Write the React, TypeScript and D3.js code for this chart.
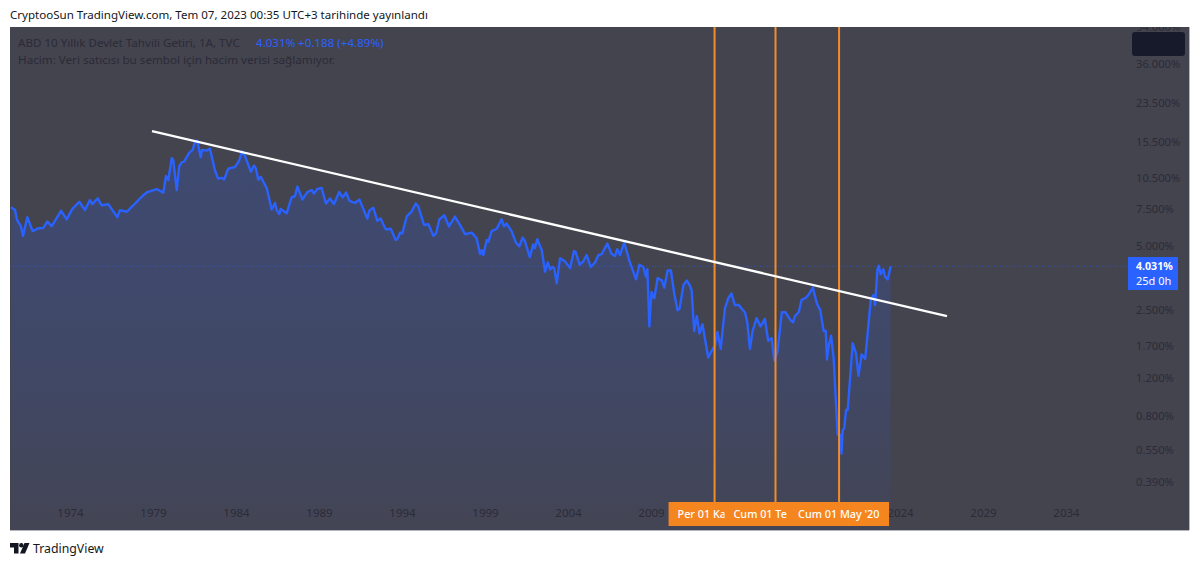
import React, { useEffect, useRef } from "react";
import * as d3 from "d3";

const dates = [
  1970.45, 1970.69, 1970.81, 1971.05, 1971.17, 1971.43, 1971.75, 1972.09, 1972.39, 1972.63, 1972.9, 1973.46, 1973.8,
  1974.14, 1974.56, 1974.9, 1975.2, 1975.34, 1975.67, 1975.91, 1976.31, 1976.85, 1977.01, 1977.42, 1978.42, 1978.66,
  1979.22, 1979.62, 1979.78, 1979.92, 1980.13, 1980.22, 1980.43, 1980.58, 1980.73, 1980.87, 1981.19, 1981.39, 1981.53,
  1981.67, 1981.87, 1981.95, 1982.24, 1982.43, 1982.73, 1982.93, 1983.14, 1983.28, 1983.53, 1983.94, 1984.2, 1984.36,
  1984.54, 1984.9, 1985.08, 1985.2, 1985.34, 1985.49, 1985.85, 1986.15, 1986.35, 1986.45, 1986.61, 1986.69, 1987.05,
  1987.35, 1987.55, 1987.7, 1988.0, 1988.3, 1988.56, 1988.7, 1988.9, 1989.16, 1989.42, 1989.66, 1989.9, 1990.22,
  1990.43, 1990.63, 1990.83, 1990.97, 1991.17, 1991.43, 1991.67, 1991.91, 1992.03, 1992.27, 1992.51, 1992.72, 1992.87,
  1993.04, 1993.32, 1993.62, 1993.74, 1993.88, 1994.02, 1994.28, 1994.58, 1994.83, 1994.98, 1995.33, 1995.59, 1995.89,
  1996.05, 1996.25, 1996.55, 1996.83, 1997.19, 1997.5, 1997.8, 1998.2, 1998.5, 1998.7, 1998.8, 1998.9, 1999.1, 1999.2,
  1999.4, 1999.7, 2000.0, 2000.15, 2000.3, 2000.6, 2000.87, 2001.07, 2001.27, 2001.4, 2001.7, 2001.9, 2002.0, 2002.15,
  2002.42, 2002.62, 2002.78, 2002.92, 2003.06, 2003.17, 2003.32, 2003.52, 2003.82, 2004.12, 2004.36, 2004.46, 2004.7,
  2004.92, 2005.12, 2005.37, 2005.63, 2005.83, 2006.03, 2006.37, 2006.63, 2006.83, 2006.97, 2007.13, 2007.39, 2007.69,
  2008.1, 2008.3, 2008.54, 2008.7, 2008.78, 2008.9, 2009.03, 2009.2, 2009.4, 2009.66, 2009.8, 2010.0, 2010.2, 2010.4,
  2010.6, 2010.72, 2010.96, 2011.16, 2011.32, 2011.45, 2011.6, 2011.76, 2011.92, 2012.1, 2012.45, 2012.72, 2012.85,
  2013.0, 2013.2, 2013.45, 2013.65, 2013.85, 2014.05, 2014.3, 2014.45, 2014.66, 2014.8, 2014.96, 2015.12, 2015.36,
  2015.6, 2015.86, 2016.06, 2016.27, 2016.43, 2016.62, 2016.88, 2017.1, 2017.4, 2017.56, 2017.67, 2017.9, 2018.07,
  2018.28, 2018.48, 2018.75, 2018.99, 2019.2, 2019.4, 2019.53, 2019.6, 2019.7, 2019.85, 2020.0, 2020.24, 2020.38,
  2020.48, 2020.54, 2020.64, 2020.75, 2020.85, 2021.15, 2021.35, 2021.5, 2021.69, 2021.9, 2022.03, 2022.24, 2022.4,
  2022.5, 2022.64, 2022.72, 2022.84, 2023.0, 2023.1, 2023.26, 2023.44,
];

const yields = [
  7.63, 7.41, 6.66, 6.19, 5.6, 6.85, 5.9, 6.08, 6.1, 6.54, 6.23, 7.35, 6.7,
  7.5, 8.1, 7.41, 8.26, 7.9, 8.4, 7.8, 7.9, 6.85, 7.4, 7.27, 8.7, 9.0,
  9.3, 8.95, 10.7, 10.26, 13.0, 12.7, 9.2, 11.9, 12.4, 12.5, 13.8, 14.2, 15.5,
  15.7, 13.1, 14.2, 14.1, 14.4, 11.4, 10.4, 10.5, 10.3, 11.6, 11.8, 12.7, 14.0,
  13.3, 11.2, 12.0, 11.6, 10.3, 10.6, 9.4, 7.45, 8.0, 7.4, 7.1, 7.5, 7.15,
  8.5, 8.6, 9.55, 8.3, 9.0, 9.2, 8.85, 9.3, 9.4, 7.95, 8.4, 7.9, 9.0,
  8.5, 8.95, 8.2, 8.1, 8.0, 8.3, 7.5, 6.75, 7.35, 7.6, 6.6, 6.75, 6.35,
  6.0, 6.05, 5.36, 5.45, 5.8, 5.75, 6.9, 7.3, 7.95, 7.7, 6.3, 6.35, 5.6,
  5.75, 6.7, 7.0, 6.2, 6.9, 6.3, 5.7, 5.8, 5.45, 4.6, 4.8, 4.55, 5.36, 5.25,
  5.9, 6.05, 6.7, 6.2, 6.4, 5.9, 5.2, 5.0, 5.5, 5.3, 4.45, 5.1, 4.9, 5.4,
  4.8, 3.8, 4.2, 3.9, 4.0, 3.95, 3.35, 4.4, 4.25, 3.95, 4.75, 4.7, 4.1,
  4.25, 4.55, 4.0, 4.2, 4.55, 4.6, 5.15, 4.6, 4.5, 4.85, 4.55, 5.2, 4.3,
  3.5, 4.1, 4.0, 3.6, 3.9, 2.1, 3.05, 2.85, 3.55, 3.45, 3.2, 3.85, 3.85, 3.0,
  2.5, 2.55, 3.3, 3.45, 3.3, 3.1, 2.0, 2.35, 1.95, 2.15, 1.5, 1.65, 1.7,
  1.98, 1.65, 2.55, 2.85, 3.0, 2.65, 2.65, 2.55, 2.45, 2.2, 1.65, 2.0, 2.3,
  2.1, 2.28, 1.8, 1.85, 1.45, 1.6, 2.45, 2.45, 2.25, 2.2, 2.35, 2.45, 2.8,
  2.85, 2.95, 3.2, 2.7, 2.5, 2.0, 2.0, 1.47, 1.7, 1.9, 1.5, 0.65, 0.65,
  0.53, 0.68, 0.7, 0.85, 0.85, 1.75, 1.57, 1.23, 1.55, 1.48, 1.87, 2.8, 2.95,
  2.65, 3.9, 4.05, 3.7, 3.9, 3.6, 3.5, 4.031,
];

// 2014 ve 2019 turuncu etiketlerin altında kalıyor
const yearTicks = [1974, 1979, 1984, 1989, 1994, 1999, 2004, 2009, 2024, 2029, 2034];
const priceTicks = [54, 36, 23.5, 15.5, 10.5, 7.5, 5, 2.5, 1.7, 1.2, 0.8, 0.55, 0.39];

const trendDates = [1978.94, 2026.83];
const trendYields = [17.4, 2.35];

const markerDates = [2012.83, 2016.5, 2020.33];
const markerLabels = ["Per 01 Ka", "Cum 01 Te", "Cum 01 May '20"];
const markerBoxWidths = [92, 102, 100];

const lastYield = 4.031;
const font = "'Noto Sans', sans-serif";

const App: React.FC = () => {
  const ref = useRef<SVGSVGElement | null>(null);

  useEffect(() => {
    if (!ref.current) return;
    const svg = d3.select(ref.current);
    svg.selectAll("*").remove();

    const width = 1200;
    const height = 566;
    const panel = { left: 10, right: 1189, top: 27, bottom: 530 };
    const bg = "#44444f";
    const axisText = "#2b2b37";
    const blue = "#2962ff";
    const orange = "#f5851f";

    const x = d3.scaleLinear().domain([1974, 2024]).range([70, 900]);
    const y = d3.scaleLog().domain([36, 0.39]).range([64, 482]);

    const defs = svg.append("defs");
    const grad = defs
      .append("linearGradient")
      .attr("id", "fade")
      .attr("gradientUnits", "userSpaceOnUse")
      .attr("x1", 0)
      .attr("x2", 0)
      .attr("y1", 140)
      .attr("y2", panel.bottom);
    grad.append("stop").attr("offset", 0).attr("stop-color", blue).attr("stop-opacity", 0.2);
    grad.append("stop").attr("offset", 0.6).attr("stop-color", blue).attr("stop-opacity", 0.13);
    grad.append("stop").attr("offset", 1).attr("stop-color", blue).attr("stop-opacity", 0.03);
    defs
      .append("clipPath")
      .attr("id", "panel")
      .append("rect")
      .attr("x", panel.left)
      .attr("y", panel.top)
      .attr("width", panel.right - panel.left)
      .attr("height", panel.bottom - panel.top);

    svg.append("rect").attr("width", width).attr("height", height).attr("fill", "#fff");

    svg
      .append("text")
      .attr("x", 10)
      .attr("y", 19)
      .attr("font-family", font)
      .attr("font-size", 11.55)
      .attr("fill", "#131722")
      .text("CryptooSun TradingView.com, Tem 07, 2023 00:35 UTC+3 tarihinde yayınlandı");

    const chart = svg.append("g").attr("clip-path", "url(#panel)");
    chart
      .append("rect")
      .attr("x", panel.left)
      .attr("y", panel.top)
      .attr("width", panel.right - panel.left)
      .attr("height", panel.bottom - panel.top)
      .attr("fill", bg);

    // alan ve çizgi
    const points = dates.map((d, i) => [d, yields[i]] as [number, number]);
    const area = d3
      .area<[number, number]>()
      .x((d) => x(d[0]))
      .y0(panel.bottom)
      .y1((d) => y(d[1]));
    const line = d3
      .line<[number, number]>()
      .x((d) => x(d[0]))
      .y((d) => y(d[1]));

    chart.append("path").attr("d", area(points)).attr("fill", "url(#fade)");

    // son fiyat çizgisi
    chart
      .append("line")
      .attr("x1", panel.left)
      .attr("x2", 1128)
      .attr("y1", y(lastYield))
      .attr("y2", y(lastYield))
      .attr("stroke", blue)
      .attr("stroke-opacity", 0.55)
      .attr("stroke-width", 1)
      .attr("stroke-dasharray", "1 2");

    chart
      .append("path")
      .attr("d", line(points))
      .attr("fill", "none")
      .attr("stroke", blue)
      .attr("stroke-width", 2.4)
      .attr("stroke-linejoin", "round");

    // dikey işaretler
    chart
      .append("g")
      .selectAll("line")
      .data(markerDates)
      .join("line")
      .attr("x1", (d) => x(d))
      .attr("x2", (d) => x(d))
      .attr("y1", panel.top)
      .attr("y2", 502)
      .attr("stroke", "#f28c28")
      .attr("stroke-width", 2);

    // trend çizgisi
    chart
      .append("line")
      .attr("x1", x(trendDates[0]))
      .attr("y1", y(trendYields[0]))
      .attr("x2", x(trendDates[1]))
      .attr("y2", y(trendYields[1]))
      .attr("stroke", "#fff")
      .attr("stroke-width", 2.3);

    // X ekseni
    const xAxis = chart
      .append("g")
      .attr("transform", "translate(0,507)")
      .call(
        d3
          .axisBottom(x)
          .tickValues(yearTicks)
          .tickFormat((d) => String(d))
          .tickSize(0)
      );
    xAxis.select(".domain").remove();
    xAxis.selectAll("text").attr("font-family", font).attr("font-size", 11.5).attr("fill", axisText).attr("dy", 7);

    // Y ekseni
    const yAxis = chart
      .append("g")
      .attr("transform", "translate(1136,0)")
      .call(
        d3
          .axisRight(y)
          .tickValues(priceTicks)
          .tickFormat((d) => `${(+d).toFixed(3)}%`)
          .tickSize(0)
          .tickPadding(0)
      );
    yAxis.select(".domain").remove();
    yAxis.selectAll("text").attr("font-family", font).attr("font-size", 11.2).attr("fill", axisText);

    // koyu kutu
    chart
      .append("rect")
      .attr("x", 1132)
      .attr("y", 32)
      .attr("width", 53)
      .attr("height", 24)
      .attr("rx", 3)
      .attr("fill", "#171a2b");

    // fiyat etiketi
    chart.append("rect").attr("x", 1128).attr("y", 257).attr("width", 50).attr("height", 33).attr("fill", blue);
    chart
      .append("text")
      .attr("x", 1136)
      .attr("y", 270)
      .attr("font-family", font)
      .attr("font-size", 10.6)
      .attr("font-weight", 700)
      .attr("fill", "#fff")
      .text(`${lastYield.toFixed(3)}%`);
    chart
      .append("text")
      .attr("x", 1136)
      .attr("y", 285)
      .attr("font-family", font)
      .attr("font-size", 11)
      .attr("fill", "#fff")
      .text("25d 0h");

    // tarih etiketleri
    markerDates.forEach((d, i) => {
      const w = markerBoxWidths[i];
      chart
        .append("rect")
        .attr("x", x(d) - w / 2)
        .attr("y", 502)
        .attr("width", w)
        .attr("height", 24)
        .attr("fill", orange);
      chart
        .append("text")
        .attr("x", x(d) - w / 2 + 9)
        .attr("y", 518)
        .attr("font-family", font)
        .attr("font-size", 10.8)
        .attr("font-weight", 500)
        .attr("fill", "#fff")
        .text(markerLabels[i]);
    });

    // başlık
    const legend1 = chart
      .append("text")
      .attr("x", 18)
      .attr("y", 47)
      .attr("font-family", font)
      .attr("font-size", 11.6)
      .attr("fill", axisText);
    legend1.append("tspan").text("ABD 10 Yıllık Devlet Tahvili Getiri, 1A, TVC");
    legend1.append("tspan").attr("x", 256).attr("fill", blue).text("4.031%");
    legend1.append("tspan").attr("x", 298).attr("fill", blue).text("+0.188 (+4.89%)");
    chart
      .append("text")
      .attr("x", 18)
      .attr("y", 64)
      .attr("font-family", font)
      .attr("font-size", 11.65)
      .attr("fill", axisText)
      .text("Hacim: Veri satıcısı bu sembol için hacim verisi sağlamıyor.");

    // panel kenarı
    svg
      .append("line")
      .attr("x1", panel.left)
      .attr("x2", panel.right)
      .attr("y1", panel.bottom + 0.5)
      .attr("y2", panel.bottom + 0.5)
      .attr("stroke", "#b2b5be");
    svg
      .append("line")
      .attr("x1", panel.right + 0.5)
      .attr("x2", panel.right + 0.5)
      .attr("y1", panel.top)
      .attr("y2", panel.bottom)
      .attr("stroke", "#b2b5be");

    // logo
    const logo = svg.append("g").attr("transform", "translate(10,543)").attr("fill", "#131722");
    logo.append("path").attr("d", "M0 0H8.5V10.5H4V4.5H0Z");
    logo.append("circle").attr("cx", 11.3).attr("cy", 2.2).attr("r", 2.2);
    logo.append("path").attr("d", "M14.5 0H19.5L15 10.5H10Z");
    svg
      .append("text")
      .attr("x", 33)
      .attr("y", 553)
      .attr("font-family", font)
      .attr("font-size", 12.3)
      .attr("fill", "#131722")
      .text("TradingView");
  }, []);

  return <svg ref={ref} width={1200} height={566} style={{ position: "absolute", left: 0, top: 0 }}></svg>;
};

export default App;
